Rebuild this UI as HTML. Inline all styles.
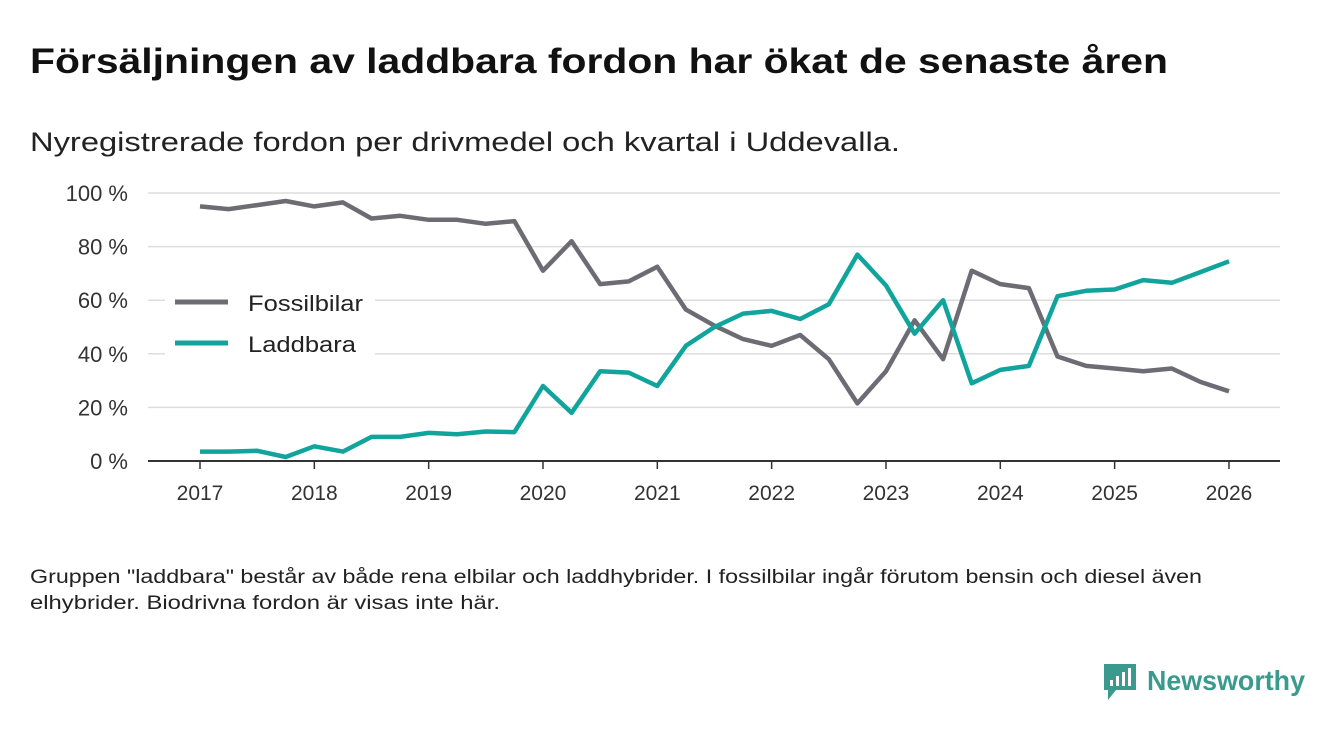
<!DOCTYPE html>
<html><head><meta charset="utf-8"><style>
body{margin:0;width:1340px;height:733px;background:#fff;font-family:"Liberation Sans","DejaVu Sans",sans-serif;overflow:hidden}
svg{display:block}
</style></head><body>
<svg width="1340" height="733">
<text x="30" y="73" font-size="35" font-weight="bold" fill="#111" textLength="1138" lengthAdjust="spacingAndGlyphs">Försäljningen av laddbara fordon har ökat de senaste åren</text>
<text x="30" y="151" font-size="27" fill="#222" textLength="870" lengthAdjust="spacingAndGlyphs">Nyregistrerade fordon per drivmedel och kvartal i Uddevalla.</text>
<g id="grid"></g>
<g id="yticks"></g>
<g id="xticks"></g>
<g id="lines"></g>
<g>
<rect x="165" y="282" width="210" height="80" fill="#fff"/>
<line x1="175" y1="302" x2="228" y2="302" stroke="#6d6c74" stroke-width="5"/>
<text x="248" y="311" font-size="22" fill="#222" textLength="115" lengthAdjust="spacingAndGlyphs">Fossilbilar</text>
<line x1="175" y1="343" x2="228" y2="343" stroke="#10a49c" stroke-width="5"/>
<text x="248" y="352" font-size="22" fill="#222" textLength="108" lengthAdjust="spacingAndGlyphs">Laddbara</text>
</g>
<text x="30" y="583" font-size="19" fill="#222" textLength="1172" lengthAdjust="spacingAndGlyphs">Gruppen "laddbara" består av både rena elbilar och laddhybrider. I fossilbilar ingår förutom bensin och diesel även</text>
<text x="30" y="609" font-size="19" fill="#222" textLength="470" lengthAdjust="spacingAndGlyphs">elhybrider. Biodrivna fordon är visas inte här.</text>
<g>
<path d="M1104 664 h32 v26 h-20 l-8 10 v-10 h-4 z" fill="#3a9a8e"/>
<rect x="1110" y="680" width="3" height="6" fill="#fff"/><rect x="1116" y="676" width="3" height="10" fill="#fff"/><rect x="1122" y="672" width="3" height="14" fill="#fff"/><rect x="1128" y="668" width="3" height="18" fill="#fff"/>
<text x="1147" y="690" font-size="28" font-weight="bold" fill="#3a9a8e" textLength="158" lengthAdjust="spacingAndGlyphs">Newsworthy</text>
</g>
</svg>
<script>
const yTicks=[0,20,40,60,80,100];
const xYears=[2017,2018,2019,2020,2021,2022,2023,2024,2025,2026];
const fossil=[95,94,95.5,97,95,96.5,90.5,91.5,90,90,88.5,89.5,71,82,66,67,72.5,56.5,50.5,45.5,43,47,38,21.5,33.5,52.5,38,71,66,64.5,39,35.5,34.5,33.5,34.5,29.5,26];
const laddbara=[3.5,3.5,3.8,1.5,5.5,3.5,9,9,10.5,10,11,10.8,28,18,33.5,33,28,43,50,55,56,53,58.5,77,65.5,47.5,60,29,34,35.5,61.5,63.5,64,67.5,66.5,70.5,74.5];
const NS="http://www.w3.org/2000/svg";
const x=t=>200+(t-2017)*114.33;
const y=v=>461-v*2.68;
function mk(tag,attrs,parent){const e=document.createElementNS(NS,tag);for(const k in attrs)e.setAttribute(k,attrs[k]);parent.appendChild(e);return e;}
const grid=document.getElementById('grid'),yt=document.getElementById('yticks'),xt=document.getElementById('xticks'),ln=document.getElementById('lines');
yTicks.forEach(v=>{
 const g=mk('line',{x1:148,x2:1280,y1:y(v),y2:y(v),stroke:v===0?'#333':'#ddd','stroke-width':v===0?2:1.5},grid);
 
 
 const t=mk('text',{x:128,y:y(v)+8,'font-size':22,fill:'#333','text-anchor':'end'},yt);
 t.textContent=v+' %';
 
 
});
xYears.forEach(yr=>{
 const l=mk('line',{x1:x(yr),x2:x(yr),y1:461,y2:469,stroke:'#333','stroke-width':1.5},xt);
 
 
 const t=mk('text',{x:x(yr),y:500,'font-size':21,fill:'#333','text-anchor':'middle'},xt);
 t.textContent=yr;
 
 
});
function series(arr,color,name){
 const d=arr.map((v,i)=>(i?'L':'M')+x(2017+i*0.25).toFixed(1)+' '+y(v).toFixed(1)).join(' ');
 const p=mk('path',{d:d,fill:'none',stroke:color,'stroke-width':4.5,'stroke-linejoin':'round'},ln);
 
 
}
series(fossil,'#6d6c74','fossilbilar-line');
series(laddbara,'#10a49c','laddbara-line');
</script>
</body></html>
